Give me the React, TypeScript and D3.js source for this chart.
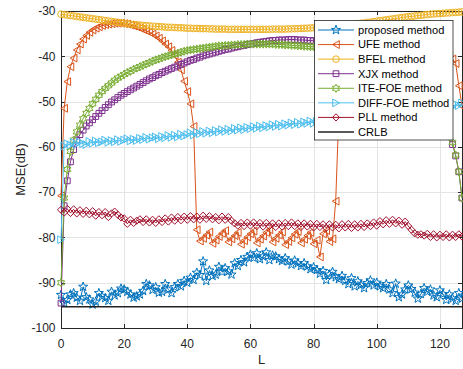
import { useEffect, useRef } from "react";
import * as d3 from "d3";

const W = 463;
const H = 369;

const xTicks = [0, 20, 40, 60, 80, 100, 120];
const yTicks = [-100, -90, -80, -70, -60, -50, -40, -30];

const legendNames = [
  "proposed method",
  "UFE method",
  "BFEL method",
  "XJX method",
  "ITE-FOE method",
  "DIFF-FOE method",
  "PLL method",
  "CRLB",
];

// MSE (dB) per L = 0..127
const proposed = [
  -92.7, -94.5, -93.8, -92.6, -92.3, -93.3, -94.0, -90.9, -93.2, -93.7,
  -94.8, -94.2, -92.3, -93.0, -93.4, -94.0, -92.0, -92.8, -92.3, -91.3,
  -91.5, -92.0, -92.6, -93.3, -93.0, -92.6, -91.8, -90.3, -90.6, -91.6,
  -91.0, -92.2, -92.0, -90.3, -91.5, -92.3, -91.0, -90.3, -90.8, -89.6,
  -90.0, -88.9, -89.4, -87.8, -88.3, -85.3, -89.6, -87.3, -88.5, -88.2,
  -86.5, -87.6, -86.8, -87.5, -88.2, -85.7, -86.3, -85.0, -85.5, -84.3,
  -83.8, -84.5, -83.5, -84.8, -84.2, -83.3, -85.0, -84.0, -84.2, -84.8,
  -85.2, -84.6, -85.3, -86.0, -85.1, -85.7, -86.3, -85.7, -86.4, -87.0,
  -86.6, -87.2, -88.0, -87.4, -89.4, -88.2, -87.6, -88.8, -89.2, -88.5,
  -89.6, -90.3, -89.0, -90.8, -89.7, -90.5, -91.2, -90.1, -89.5, -90.6,
  -90.0, -90.8, -91.2, -90.3, -91.5, -92.3, -90.2, -93.2, -92.6, -91.5,
  -90.6, -91.4, -92.2, -93.5, -92.5, -91.2, -92.0, -91.5, -92.8, -93.2,
  -91.7, -92.5, -93.8, -92.6, -93.5, -94.0, -92.3, -93.5,
];

const ufe = [
  -70.8, -51.5, -45.6, -42.3, -40.4, -38.6, -37.3, -36.2, -35.4, -34.7,
  -34.2, -33.8, -33.5, -33.2, -33.0, -32.9, -32.8, -32.7, -32.7, -32.7,
  -32.8, -32.9, -33.1, -33.3, -33.5, -33.8, -34.1, -34.4, -34.7, -35.1,
  -35.5, -36.0, -36.6, -37.3, -37.9, -38.7, -39.8, -41.3, -43.0, -45.5,
  -47.8, -50.5, -55.5, -78.3, -80.8, -80.2, -79.5, -78.8, -81.3, -80.6,
  -79.8, -79.1, -78.5, -81.0, -80.3, -79.6, -78.9, -81.5, -80.7, -79.9,
  -79.2, -78.6, -81.2, -80.4, -79.7, -78.9, -78.3, -81.0, -80.2, -79.5,
  -78.8, -81.6, -80.9, -80.1, -79.3, -78.7, -81.2, -80.4, -79.6, -78.9,
  -81.4, -80.6, -84.3, -79.2, -78.5, -80.9, -80.3, -72.0, -52.5, -46.0,
  -42.6, -40.5, -38.8, -37.4, -36.3, -35.5, -34.8, -34.3, -33.9, -33.5,
  -33.2, -33.0, -32.9, -32.8, -32.7, -32.7, -32.8, -32.9, -33.0, -33.2,
  -33.4, -33.7, -34.0, -34.3, -34.6, -35.0, -35.4, -35.9, -36.5, -37.1,
  -37.8, -38.4, -39.0, -39.8, -40.6, -41.6, -46.5, -51.0,
];

const bfel = [
  -30.7, -30.8, -30.9, -31.0, -31.1, -31.2, -31.3, -31.4, -31.5, -31.6,
  -31.7, -31.8, -31.9, -32.0, -32.1, -32.2, -32.3, -32.4, -32.5, -32.6,
  -32.7, -32.8, -32.9, -33.0, -33.05, -33.1, -33.2, -33.25, -33.3, -33.35,
  -33.4, -33.45, -33.5, -33.55, -33.6, -33.6, -33.65, -33.7, -33.7, -33.75,
  -33.8, -33.8, -33.85, -33.85, -33.9, -33.9, -33.9, -33.95, -33.95, -34.0,
  -34.0, -34.0, -34.0, -34.05, -34.05, -34.05, -34.05, -34.05, -34.05, -34.05,
  -34.05, -34.05, -34.05, -34.05, -34.05, -34.05, -34.05, -34.0, -34.0, -34.0,
  -34.0, -34.0, -33.95, -33.95, -33.9, -33.9, -33.85, -33.8, -33.8, -33.75,
  -33.7, -33.65, -33.6, -33.55, -33.5, -33.45, -33.4, -33.3, -33.25, -33.2,
  -33.1, -33.05, -33.0, -32.9, -32.8, -32.7, -32.65, -32.55, -32.45, -32.35,
  -32.25, -32.15, -32.05, -31.95, -31.85, -31.75, -31.65, -31.55, -31.45, -31.35,
  -31.25, -31.2, -31.1, -31.0, -30.95, -30.85, -30.8, -30.7, -30.65, -30.6,
  -30.55, -30.5, -30.45, -30.4, -30.35, -30.3, -30.25, -30.2,
];

const xjx = [
  -94.5, -73.0, -67.5, -63.3, -60.6, -58.5, -57.3, -56.3, -55.4, -54.7,
  -54.0, -53.3, -52.6, -52.0, -51.3, -50.7, -50.1, -49.6, -49.1, -48.6,
  -48.2, -47.8, -47.4, -47.0, -46.6, -46.2, -45.8, -45.4, -45.0, -44.7,
  -44.3, -44.0, -43.6, -43.3, -43.0, -42.7, -42.4, -42.1, -41.8, -41.5,
  -41.2, -40.9, -40.7, -40.4, -40.2, -39.9, -39.7, -39.5, -39.3, -39.1,
  -38.9, -38.7, -38.5, -38.4, -38.2, -38.0, -37.9, -37.7, -37.6, -37.4,
  -37.3, -37.2, -37.0, -36.9, -36.8, -36.7, -36.6, -36.5, -36.5, -36.4,
  -36.4, -36.4, -36.3, -36.3, -36.3, -36.4, -36.4, -36.4, -36.5, -36.5,
  -36.6, -36.6, -36.7, -36.7, -36.8, -36.8, -36.9, -36.9, -37.0, -37.0,
  -37.1, -37.1, -37.2, -37.2, -37.3, -37.3, -37.4, -37.4, -37.5, -37.5,
  -37.6, -37.6, -37.7, -37.7, -37.8, -37.8, -37.9, -37.9, -38.0, -38.0,
  -38.1, -38.2, -38.2, -38.3, -38.4, -38.5, -38.6, -38.7, -38.8, -39.0,
  -39.2, -39.5, -41.0, -48.0, -59.5, -62.0, -65.5, -71.3,
];

const iteFoe = [
  -90.0, -71.3, -65.0, -61.0, -58.5, -56.7, -55.2, -53.8, -52.6, -51.5,
  -50.5, -49.5, -48.6, -47.8, -47.1, -46.5, -45.9, -45.3, -44.8, -44.4,
  -44.0, -43.6, -43.3, -42.9, -42.6, -42.3, -42.0, -41.7, -41.4, -41.1,
  -40.8, -40.6, -40.3, -40.1, -39.9, -39.7, -39.5, -39.3, -39.1, -38.9,
  -38.7, -38.6, -38.5, -38.4, -38.3, -38.2, -38.1, -38.0, -37.9, -37.8,
  -37.7, -37.7, -37.6, -37.6, -37.5, -37.5, -37.4, -37.4, -37.4, -37.3,
  -37.3, -37.3, -37.3, -37.3, -37.3, -37.3, -37.3, -37.3, -37.4, -37.4,
  -37.4, -37.5, -37.5, -37.6, -37.6, -37.7, -37.7, -37.8, -37.8, -37.9,
  -37.9, -38.0, -38.0, -38.1, -38.1, -38.2, -38.2, -38.3, -38.3, -38.4,
  -38.4, -38.5, -38.5, -38.6, -38.6, -38.7, -38.7, -38.8, -38.8, -38.9,
  -38.9, -39.0, -39.0, -39.1, -39.1, -39.2, -39.2, -39.3, -39.3, -39.4,
  -39.4, -39.5, -39.5, -39.6, -39.7, -39.8, -39.9, -40.0, -40.1, -40.3,
  -40.5, -40.8, -42.0, -49.0, -59.0, -61.8, -65.5, -71.3,
];

const diffFoe = [
  -80.5, -59.8, -59.3, -59.6, -59.0, -59.4, -58.9, -59.3, -59.5, -58.8,
  -59.2, -58.7, -59.1, -58.9, -58.5, -59.0, -58.6, -58.9, -58.4, -58.8,
  -58.5, -58.2, -58.7, -58.3, -58.6, -58.1, -58.4, -57.9, -58.3, -58.0,
  -57.8, -58.2, -57.7, -58.0, -57.5, -57.9, -57.4, -57.8, -57.2, -57.6,
  -57.3, -56.9, -57.4, -56.8, -57.1, -56.6, -57.0, -56.5, -56.9, -56.4,
  -56.7, -56.2, -56.6, -56.1, -56.5, -55.9, -56.3, -55.8, -56.2, -55.7,
  -56.0, -55.5, -55.9, -55.4, -55.8, -55.3, -55.6, -55.1, -55.5, -55.0,
  -55.4, -54.9, -55.2, -54.7, -55.1, -54.6, -55.0, -54.5, -54.8, -54.3,
  -54.8, -54.4, -54.7, -54.2, -54.6, -54.1, -54.5, -54.0, -54.4, -53.9,
  -54.3, -53.8, -54.2, -53.7, -54.1, -53.6, -54.0, -53.5, -53.9, -53.4,
  -53.8, -53.3, -53.7, -53.1, -53.5, -52.9, -53.3, -52.7, -53.1, -52.5,
  -52.9, -52.3, -52.7, -52.1, -52.5, -51.9, -52.3, -51.7, -52.0, -51.5,
  -51.8, -51.2, -51.5, -50.9, -51.2, -50.6, -50.9, -50.3,
];

const pll = [
  -73.9, -74.5, -73.7, -74.6, -73.8, -74.7, -74.0, -74.8, -74.1, -74.9,
  -74.2, -75.2, -74.4, -75.1, -74.4, -75.5, -74.7, -74.3, -75.0, -75.6,
  -75.8, -77.0, -76.1, -76.8, -76.3, -76.0, -76.6, -76.0, -76.7, -76.1,
  -76.8, -76.0, -76.6, -75.8, -76.5, -75.6, -76.3, -75.5, -76.2, -75.4,
  -76.1, -75.3, -76.0, -75.4, -76.1, -75.2, -75.9, -75.3, -76.0, -75.5,
  -76.2, -75.4, -76.1, -75.5, -76.3, -76.9, -77.4, -76.8, -77.5, -76.7,
  -77.4, -76.7, -77.5, -76.8, -77.6, -76.8, -77.5, -76.9, -77.7, -76.9,
  -77.6, -76.8, -77.5, -76.7, -77.5, -76.9, -77.7, -76.9, -77.6, -77.0,
  -77.8, -77.0, -77.7, -77.1, -77.9, -77.1, -77.8, -77.2, -78.0, -77.1,
  -77.8, -77.0, -77.9, -77.1, -77.8, -77.0, -77.7, -76.9, -77.5, -76.7,
  -77.4, -76.4, -77.1, -76.2, -77.0, -76.1, -76.9, -76.3, -77.2, -76.5,
  -77.5, -78.3, -79.1, -79.4, -79.3, -79.6, -79.2, -79.9, -79.3, -80.0,
  -79.4, -79.9, -79.3, -80.0, -79.4, -79.9, -79.3, -79.8,
];

// CRLB is flat over the whole range
const crlbL = [0, 127];
const crlb = [-95.3, -95.3];

const FONT = "'Liberation Sans', Arial, Helvetica, sans-serif";
const AXIS = "#262626";

function starPath(points: number, outer: number, inner: number): string {
  const pts: string[] = [];
  for (let k = 0; k < points * 2; k++) {
    const r = k % 2 === 0 ? outer : inner;
    const a = -Math.PI / 2 + (k * Math.PI) / points;
    pts.push(`${(r * Math.cos(a)).toFixed(2)},${(r * Math.sin(a)).toFixed(2)}`);
  }
  return `M${pts.join("L")}Z`;
}

function markerPath(kind: string): string {
  switch (kind) {
    case "star":
      return starPath(5, 4.8, 1.95);
    case "left":
      return "M-3.4,0L3.3,-3.9L3.3,3.9Z";
    case "right":
      return "M3.4,0L-3.3,-3.9L-3.3,3.9Z";
    case "circle":
      return "M3.3,0A3.3,3.3 0 1,1 -3.3,0A3.3,3.3 0 1,1 3.3,0Z";
    case "square":
      return "M-2.9,-2.9H2.9V2.9H-2.9Z";
    case "hex":
      return starPath(6, 4.1, 2.35);
    case "diamond":
      return "M0,-3.6L3.5,0L0,3.6L-3.5,0Z";
    default:
      return "";
  }
}

export default function App() {
  const svgRef = useRef<SVGSVGElement | null>(null);

  useEffect(() => {
    if (!svgRef.current) return;
    const svg = d3.select(svgRef.current);
    svg.selectAll("*").remove();

    const x = d3.scaleLinear().domain([0, 127]).range([61, 462]);
    const y = d3.scaleLinear().domain([-100, -30]).range([328, 11]);
    const [x0, x1] = x.range();
    const [y1, y0] = y.range();
    const px = (v: number) => Math.round(v) + 0.5;

    svg.append("rect").attr("width", W).attr("height", H).attr("fill", "#fff");

    // grid
    const grid = svg.append("g").attr("stroke", "#e4e4e4").attr("stroke-width", 1);
    xTicks.slice(1).forEach((t) => {
      grid.append("line").attr("x1", px(x(t))).attr("x2", px(x(t))).attr("y1", y0).attr("y2", y1);
    });
    yTicks.slice(1, -1).forEach((t) => {
      grid.append("line").attr("x1", x0).attr("x2", x1).attr("y1", px(y(t))).attr("y2", px(y(t)));
    });

    // axes box + inward ticks
    const ax = svg.append("g").attr("stroke", AXIS).attr("stroke-width", 1).attr("fill", "none");
    ax.append("rect")
      .attr("x", px(x0))
      .attr("y", px(y0))
      .attr("width", Math.round(x1) - Math.round(x0))
      .attr("height", Math.round(y1) - Math.round(y0));
    xTicks.forEach((t) => {
      ax.append("line").attr("x1", px(x(t))).attr("x2", px(x(t))).attr("y1", y1).attr("y2", y1 - 4);
      ax.append("line").attr("x1", px(x(t))).attr("x2", px(x(t))).attr("y1", y0).attr("y2", y0 + 4);
    });
    yTicks.forEach((t) => {
      ax.append("line").attr("x1", x0).attr("x2", x0 + 4).attr("y1", px(y(t))).attr("y2", px(y(t)));
      ax.append("line").attr("x1", x1).attr("x2", x1 - 4).attr("y1", px(y(t))).attr("y2", px(y(t)));
    });

    const labels = svg.append("g").attr("font-family", FONT).attr("fill", AXIS);
    xTicks.forEach((t) => {
      labels.append("text")
        .attr("x", x(t))
        .attr("y", 347.5)
        .attr("text-anchor", "middle")
        .attr("font-size", 12)
        .text(String(t));
    });
    yTicks.forEach((t) => {
      labels.append("text")
        .attr("x", 55.5)
        .attr("y", y(t) + 4.3)
        .attr("text-anchor", "end")
        .attr("font-size", 12)
        .text(String(t));
    });
    labels.append("text")
      .attr("x", (x0 + x1) / 2)
      .attr("y", 364)
      .attr("text-anchor", "middle")
      .attr("font-size", 13)
      .text("L");
    labels.append("text")
      .attr("transform", `translate(25,${(y0 + y1) / 2}) rotate(-90)`)
      .attr("text-anchor", "middle")
      .attr("font-size", 13)
      .text("MSE(dB)");

    const series = [
      { values: proposed, color: "#0072BD", marker: "star" },
      { values: ufe, color: "#D95319", marker: "left" },
      { values: bfel, color: "#EDB120", marker: "circle" },
      { values: xjx, color: "#7E2F8E", marker: "square" },
      { values: iteFoe, color: "#77AC30", marker: "hex" },
      { values: diffFoe, color: "#4DBEEE", marker: "right" },
      { values: pll, color: "#A2142F", marker: "diamond" },
    ];

    const line = d3
      .line<number>()
      .x((_, i) => x(i))
      .y((v) => y(v));

    series.forEach((s) => {
      const g = svg.append("g");
      g.append("path")
        .attr("d", line(s.values) ?? "")
        .attr("fill", "none")
        .attr("stroke", s.color)
        .attr("stroke-width", 1);
      g.selectAll("path.m")
        .data(s.values)
        .join("path")
        .attr("class", "m")
        .attr("transform", (v, i) => `translate(${x(i)},${y(v)})`)
        .attr("d", markerPath(s.marker))
        .attr("fill", "none")
        .attr("stroke", s.color)
        .attr("stroke-width", 1);
    });

    const crlbLine = d3
      .line<number>()
      .x((_, i) => x(crlbL[i]))
      .y((v) => y(v));
    svg.append("path")
      .attr("d", crlbLine(crlb) ?? "")
      .attr("fill", "none")
      .attr("stroke", "#222")
      .attr("stroke-width", 1.4);

    // legend
    const lg = svg.append("g").attr("font-family", FONT);
    lg.append("rect")
      .attr("x", 314.5)
      .attr("y", 20.5)
      .attr("width", 138.5)
      .attr("height", 119.5)
      .attr("fill", "#fff")
      .attr("stroke", AXIS)
      .attr("stroke-width", 0.8);
    const legendStyles = [...series.map((s) => ({ color: s.color, marker: s.marker })), { color: "#222", marker: "" }];
    legendNames.forEach((name, i) => {
      const cy = 30 + i * 14.57;
      const st = legendStyles[i];
      lg.append("line")
        .attr("x1", 318)
        .attr("x2", 354)
        .attr("y1", cy)
        .attr("y2", cy)
        .attr("stroke", st.color)
        .attr("stroke-width", st.marker ? 1 : 1.4);
      if (st.marker) {
        lg.append("path")
          .attr("transform", `translate(336,${cy})`)
          .attr("d", markerPath(st.marker))
          .attr("fill", "none")
          .attr("stroke", st.color)
          .attr("stroke-width", 1);
      }
      lg.append("text")
        .attr("x", 358)
        .attr("y", cy + 3.9)
        .attr("font-size", 11.1)
        .attr("fill", "#000")
        .text(name);
    });
  }, []);

  return (
    <svg
      ref={svgRef}
      width={W}
      height={H}
      style={{ position: "absolute", left: 0, top: 0, display: "block" }}
    />
  );
}
